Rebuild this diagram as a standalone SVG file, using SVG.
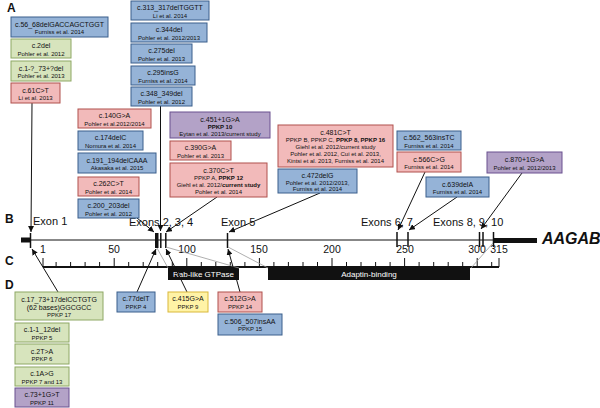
<svg xmlns="http://www.w3.org/2000/svg" width="600" height="408" viewBox="0 0 600 408">
<style>
.bl{fill:#95B3D7;stroke:#3A5F8C;stroke-width:1}
.gr{fill:#D7E4BD;stroke:#8EA865;stroke-width:1}
.pk{fill:#F2BABA;stroke:#B0504C;stroke-width:1}
.pu{fill:#B3A2C7;stroke:#6A5190;stroke-width:1}
.ye{fill:#FFF3A6;stroke:#D9B83A;stroke-width:1}
text{font-family:"Liberation Sans",Arial,sans-serif;fill:#111}
.t{font-size:7px;text-anchor:middle}
.s{font-size:6px;text-anchor:middle}
.b{font-weight:bold}
.lab{font-size:12px;font-weight:bold}
.ex{font-size:11px}
.sc{font-size:10.5px;text-anchor:middle}
.dom{font-size:8px;fill:#fff;text-anchor:middle}
.con{stroke:#111;stroke-width:1;fill:none}
.gy{stroke:#9a9a9a;stroke-width:0.8;fill:none}
</style>
<defs>
<marker id="ah" viewBox="0 0 10 10" refX="10" refY="5" markerWidth="6" markerHeight="6" orient="auto" markerUnits="userSpaceOnUse">
<path d="M0,0 L10,5 L0,10 z" fill="#111"/>
</marker>
</defs>
<rect width="600" height="408" fill="#fff"/>

<text class="lab" x="7" y="12">A</text>
<text class="lab" x="5" y="223">B</text>
<text class="lab" x="5" y="265">C</text>
<text class="lab" x="5" y="289">D</text>

<g id="gene">
<line x1="30" y1="240" x2="493" y2="240" stroke="#111" stroke-width="1"/>
<rect x="21" y="237.5" width="9" height="5" fill="#111"/>
<rect x="493" y="238" width="44" height="5" fill="#111"/>
<line x1="30.5" y1="233" x2="30.5" y2="248" stroke="#111" stroke-width="1.5"/>
<rect x="155" y="233" width="3.5" height="15" fill="#111"/>
<line x1="160.8" y1="233" x2="160.8" y2="248" stroke="#111" stroke-width="1.5"/>
<line x1="165.8" y1="233" x2="165.8" y2="248" stroke="#111" stroke-width="1.5"/>
<line x1="227.5" y1="233" x2="227.5" y2="248" stroke="#111" stroke-width="1.5"/>
<line x1="397" y1="232" x2="397" y2="247" stroke="#111" stroke-width="1.5"/>
<line x1="408" y1="232" x2="408" y2="247" stroke="#111" stroke-width="1.5"/>
<line x1="479.5" y1="232" x2="479.5" y2="247" stroke="#111" stroke-width="1.5"/>
<line x1="483" y1="232" x2="483" y2="247" stroke="#111" stroke-width="1.5"/>
<line x1="493.5" y1="232" x2="493.5" y2="247" stroke="#111" stroke-width="1.5"/>
<text x="542" y="244" font-size="16" font-weight="bold" font-style="italic">AAGAB</text>
<text class="ex" x="33" y="225">Exon 1</text>
<text class="ex" x="129" y="226">Exons 2, 3, 4</text>
<text class="ex" x="221" y="226">Exon 5</text>
<text class="ex" x="361" y="226">Exons 6, 7</text>
<text class="ex" x="433" y="226">Exons 8, 9, 10</text>
</g>

<g id="scale">
<text class="sc" x="43" y="253">1</text>
<text class="sc" x="114" y="253">50</text>
<text class="sc" x="187" y="253">100</text>
<text class="sc" x="259" y="253">150</text>
<text class="sc" x="332" y="253">200</text>
<text class="sc" x="405" y="253">250</text>
<text class="sc" x="477" y="253">300</text>
<text class="sc" x="499" y="253">315</text>
<line x1="43" y1="267" x2="499" y2="267" stroke="#111" stroke-width="2"/>
<path stroke="#111" stroke-width="1" fill="none" d="M43,258V267 M56.1,262V267 M70.6,262V267 M85.1,262V267 M99.6,262V267 M114.2,258V267 M128.7,262V267 M143.2,262V267 M157.7,262V267 M172.3,262V267 M186.8,258V267 M201.3,262V267 M215.8,262V267 M230.3,262V267 M244.9,262V267 M259.4,258V267 M273.9,262V267 M288.4,262V267 M303,262V267 M317.5,262V267 M332,258V267 M346.5,262V267 M361,262V267 M375.6,262V267 M390.1,262V267 M404.6,258V267 M419.1,262V267 M433.7,262V267 M448.2,262V267 M462.7,262V267 M477.2,258V267 M491.7,262V267 M499,258V267"/>
</g>

<g id="rab">
<rect x="168" y="268" width="71" height="12" fill="#111"/>
<text class="dom" x="203.5" y="277">Rab-like GTPase</text>
</g>
<g id="adaptin">
<rect x="268" y="268" width="202" height="12" fill="#111"/>
<text class="dom" x="369" y="277">Adaptin-binding</text>
</g>

<g id="connectors">
<line class="gy" x1="157" y1="248" x2="168" y2="268"/>
<line class="gy" x1="166" y1="247" x2="239" y2="268"/>
<line class="gy" x1="228" y1="247" x2="268" y2="268"/>
<line class="gy" x1="493" y1="243" x2="471" y2="268"/>
<line class="con" x1="32" y1="103" x2="31" y2="232" marker-end="url(#ah)"/>
<line class="con" x1="160.5" y1="106" x2="160.5" y2="231" marker-end="url(#ah)"/>
<line class="con" x1="137" y1="218" x2="154" y2="232" marker-end="url(#ah)"/>
<line class="con" x1="217" y1="197" x2="166" y2="232" marker-end="url(#ah)"/>
<line class="con" x1="320" y1="193" x2="229" y2="232" marker-end="url(#ah)"/>
<line class="con" x1="425" y1="172" x2="398" y2="230" marker-end="url(#ah)"/>
<line class="con" x1="457" y1="197" x2="409" y2="230" marker-end="url(#ah)"/>
<line class="con" x1="522" y1="173" x2="481" y2="229" marker-end="url(#ah)"/>
<line class="con" x1="58" y1="292" x2="32" y2="249" marker-end="url(#ah)"/>
<line class="con" x1="137" y1="292" x2="156" y2="249" marker-end="url(#ah)"/>
<line class="con" x1="187" y1="292" x2="166" y2="249" marker-end="url(#ah)"/>
<line class="con" x1="240" y1="292" x2="228" y2="249" marker-end="url(#ah)"/>
</g>

<g id="m1"><rect class="bl" x="11" y="17" width="97" height="20"/><text class="t" x="59.5" y="26.5">c.56_68delGACCAGCTGGT</text><text class="s" x="59.5" y="34">Furniss et al. 2014</text></g>
<g id="m2"><rect class="gr" x="11" y="39" width="60" height="19"/><text class="t" x="41" y="48">c.2del</text><text class="s" x="41" y="55.5">Pohler et al. 2012</text></g>
<g id="m3"><rect class="gr" x="11" y="61" width="60" height="20"/><text class="t" x="41" y="70.5">c.1-?_73+?del</text><text class="s" x="41" y="78">Pohler et al. 2013</text></g>
<g id="m4"><rect class="pk" x="11" y="83" width="49" height="20"/><text class="t" x="35.5" y="92.5">c.61C&gt;T</text><text class="s" x="35.5" y="100">Li et al. 2013</text></g>

<g id="m5"><rect class="bl" x="131" y="1" width="78" height="19"/><text class="t" x="170" y="10">c.313_317delTGGTT</text><text class="s" x="170" y="17.5">Li et al. 2014</text></g>
<g id="m6"><rect class="bl" x="131" y="23" width="76" height="19"/><text class="t" x="169" y="32">c.344del</text><text class="s" x="169" y="39.5">Pohler et al. 2012/2013</text></g>
<g id="m7"><rect class="bl" x="131" y="44" width="61" height="19"/><text class="t" x="161.5" y="53">c.275del</text><text class="s" x="161.5" y="60.5">Pohler et al. 2013</text></g>
<g id="m8"><rect class="bl" x="131" y="66" width="64" height="19"/><text class="t" x="163" y="75">c.295insG</text><text class="s" x="163" y="82.5">Furniss et al. 2014</text></g>
<g id="m9"><rect class="bl" x="131" y="87" width="61" height="19"/><text class="t" x="161.5" y="96">c.348_349del</text><text class="s" x="161.5" y="103.5">Pohler et al. 2012</text></g>

<g id="m10"><rect class="pk" x="78" y="109" width="73" height="19"/><text class="t" x="114.5" y="118">c.140G&gt;A</text><text class="s" x="114.5" y="125.5">Pohler et al.2012/2014</text></g>
<g id="m11"><rect class="bl" x="78" y="131" width="65" height="19"/><text class="t" x="110.5" y="140">c.174delC</text><text class="s" x="110.5" y="147.5">Nomura et al. 2014</text></g>
<g id="m12"><rect class="bl" x="78" y="153" width="78" height="20"/><text class="t" x="117" y="162.5">c.191_194delCAAA</text><text class="s" x="117" y="170">Akasaka et al. 2015</text></g>
<g id="m13"><rect class="pk" x="78" y="177" width="61" height="19"/><text class="t" x="108.5" y="186">c.262C&gt;T</text><text class="s" x="108.5" y="193.5">Pohler et al. 2014</text></g>
<g id="m14"><rect class="bl" x="78" y="199" width="61" height="19"/><text class="t" x="108.5" y="208">c.200_203del</text><text class="s" x="108.5" y="215.5">Pohler et al. 2012</text></g>

<g id="m15"><rect class="pu" x="170" y="112" width="100" height="26"/><text class="t" x="220" y="121.5">c.451+1G&gt;A</text><text class="s b" x="220" y="129">PPKP 10</text><text class="s" x="220" y="136">Eytan et al. 2013/current study</text></g>
<g id="m16"><rect class="pk" x="170" y="141" width="61" height="19"/><text class="t" x="200.5" y="150">c.390G&gt;A</text><text class="s" x="200.5" y="157.5">Pohler et al. 2013</text></g>
<g id="m17"><rect class="pk" x="170" y="163" width="97" height="34"/><text class="t" x="218.5" y="172.5">c.370C&gt;T</text><text class="s" x="218.5" y="180">PPKP A, <tspan class="b">PPKP 12</tspan></text><text class="s" x="218.5" y="187">Giehl et al. 2012/<tspan class="b">current study</tspan></text><text class="s" x="218.5" y="194">Pohler et al. 2014</text></g>

<g id="m18"><rect class="pk" x="278" y="125" width="115" height="42"/><text class="t" x="335.5" y="134.5">c.481C&gt;T</text><text class="s" x="335.5" y="142">PPKP B, PPKP C, <tspan class="b">PPKP 8, PPKP 16</tspan></text><text class="s" x="335.5" y="149">Giehl et al. 2012/current study</text><text class="s" x="335.5" y="156">Pohler et al. 2012, Cui et al. 2013,</text><text class="s" x="335.5" y="163">Kintsi et al. 2013, Furniss et al. 2014</text></g>
<g id="m19"><rect class="bl" x="278" y="169" width="79" height="24"/><text class="t" x="317.5" y="178">c.472delG</text><text class="s" x="317.5" y="185">Pohler et al. 2012/2013,</text><text class="s" x="317.5" y="191">Furniss et al. 2014</text></g>

<g id="m20"><rect class="bl" x="397" y="131" width="64" height="19"/><text class="t" x="429" y="140">c.562_563insTC</text><text class="s" x="429" y="147.5">Furniss et al. 2014</text></g>
<g id="m21"><rect class="pk" x="397" y="152" width="64" height="20"/><text class="t" x="429" y="161.5">c.566C&gt;G</text><text class="s" x="429" y="169">Furniss et al. 2014</text></g>
<g id="m22"><rect class="bl" x="426" y="177" width="63" height="20"/><text class="t" x="457.5" y="186.5">c.639delA</text><text class="s" x="457.5" y="194">Furniss et al. 2014</text></g>
<g id="m23"><rect class="pu" x="487" y="152" width="75" height="21"/><text class="t" x="524.5" y="162">c.870+1G&gt;A</text><text class="s" x="524.5" y="169.5">Pohler et al. 2012/2013</text></g>

<g id="d1"><rect class="gr" x="15" y="292" width="88" height="28"/><text class="t" x="59" y="301.5">c.17_73+17delCCTGTG</text><text class="t" x="59" y="310">(62 bases)GGCGCC</text><text class="s" x="59" y="317">PPKP 17</text></g>
<g id="d2"><rect class="gr" x="15" y="323" width="54" height="19"/><text class="t" x="42" y="332">c.1-1_12del</text><text class="s" x="42" y="339.5">PPKP 5</text></g>
<g id="d3"><rect class="gr" x="15" y="344" width="54" height="20"/><text class="t" x="42" y="353.5">c.2T&gt;A</text><text class="s" x="42" y="361">PPKP 6</text></g>
<g id="d4"><rect class="gr" x="15" y="367" width="54" height="19"/><text class="t" x="42" y="376">c.1A&gt;G</text><text class="s" x="42" y="383.5">PPKP 7 and 13</text></g>
<g id="d5"><rect class="pu" x="15" y="388" width="54" height="19"/><text class="t" x="42" y="397">c.73+1G&gt;T</text><text class="s" x="42" y="404.5">PPKP 11</text></g>
<g id="d6"><rect class="bl" x="117" y="292" width="38" height="20"/><text class="t" x="136" y="301">c.77delT</text><text class="s" x="136" y="308.5">PPKP 4</text></g>
<g id="d7"><rect class="ye" x="168" y="292" width="40" height="20"/><text class="t" x="188" y="301">c.415G&gt;A</text><text class="s" x="188" y="308.5">PPKP 9</text></g>
<g id="d8"><rect class="pk" x="218" y="292" width="44" height="20"/><text class="t" x="240" y="301">c.512G&gt;A</text><text class="s" x="240" y="308.5">PPKP 14</text></g>
<g id="d9"><rect class="bl" x="218" y="314" width="64" height="21"/><text class="t" x="250" y="323.5">c.506_507insAA</text><text class="s" x="250" y="331">PPKP 15</text></g>
</svg>
